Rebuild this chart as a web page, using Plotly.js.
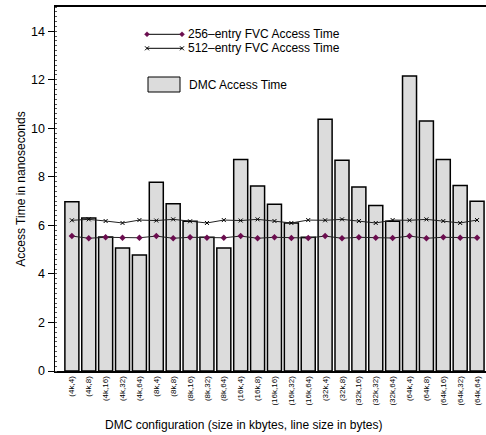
<!DOCTYPE html>
<html>
<head>
<meta charset="utf-8">
<script src="https://cdn.plot.ly/plotly-3.0.1.min.js"></script>
<style>html,body{margin:0;padding:0;background:#fff;}#chart{width:486px;height:435px;}</style>
</head>
<body>
<div id="chart"></div>
<script>
var categories = ["(4k,4)","(4k,8)","(4k,16)","(4k,32)","(4k,64)",
  "(8k,4)","(8k,8)","(8k,16)","(8k,32)","(8k,64)",
  "(16k,4)","(16k,8)","(16k,16)","(16k,32)","(16k,64)",
  "(32k,4)","(32k,8)","(32k,16)","(32k,32)","(32k,64)",
  "(64k,4)","(64k,8)","(64k,16)","(64k,32)","(64k,64)"];
var dmcAccess = [6.97,6.31,5.52,5.07,4.78, 7.78,6.89,6.17,5.51,5.07, 8.72,7.62,6.87,6.10,5.51, 10.37,8.68,7.58,6.82,6.17, 12.16,10.30,8.72,7.64,7.00];
var fvc256 = [5.56,5.47,5.51,5.49,5.49, 5.56,5.47,5.51,5.49,5.49, 5.56,5.47,5.51,5.48,5.48, 5.56,5.47,5.51,5.49,5.48, 5.56,5.47,5.51,5.49,5.49];
var fvc512 = [6.21,6.25,6.18,6.10,6.22, 6.20,6.25,6.17,6.10,6.22, 6.20,6.25,6.18,6.10,6.22, 6.21,6.25,6.18,6.10,6.22, 6.21,6.25,6.18,6.10,6.22];
var yTicks = [0,2,4,6,8,10,12,14];
var seriesNames = ["256\u2013entry FVC Access Time", "512\u2013entry FVC Access Time", "DMC Access Time"];

var font = "Liberation Sans, Arial, sans-serif";
var purple = "#6b0d4f";
var traces = [
  {type:"scatter", mode:"lines+markers", name:seriesNames[0], x:categories, y:fvc256,
   line:{color:"#222", width:1}, marker:{symbol:"diamond", size:5, color:purple}},
  {type:"scatter", mode:"lines+markers", name:seriesNames[1], x:categories, y:fvc512,
   line:{color:"#222", width:1}, marker:{symbol:"x-thin", size:4, color:"#000", line:{color:"#000", width:1}}},
  {type:"bar", name:seriesNames[2], x:categories, y:dmcAccess,
   marker:{color:"#dcdcdc", line:{color:"#000", width:1.5}}}
];

// plot-area pixel geometry -> paper coordinates (for the hand-drawn legend)
var L = 55, R = 486, T = 7, B = 371;
function px(x){ return (x - L) / (R - L); }
function py(y){ return (B - y) / (B - T); }

var shapes = [], annotations = [];
function legendLine(yPix, kind, label){
  var x0 = 147, x1 = 182;
  shapes.push({type:"line", xref:"paper", yref:"paper", x0:px(x0), x1:px(x1), y0:py(yPix), y1:py(yPix), line:{color:"#000", width:1}});
  [x0, x1].forEach(function(xc){
    if (kind === "diamond") {
      var r = 2.5;
      shapes.push({type:"path", xref:"paper", yref:"paper",
        path:"M"+px(xc)+","+py(yPix-r)+" L"+px(xc+r)+","+py(yPix)+" L"+px(xc)+","+py(yPix+r)+" L"+px(xc-r)+","+py(yPix)+" Z",
        fillcolor:purple, line:{color:purple, width:0.5}});
    } else {
      shapes.push({type:"line", xref:"paper", yref:"paper", x0:px(xc-2), x1:px(xc+2), y0:py(yPix-2), y1:py(yPix+2), line:{color:"#000", width:1}});
      shapes.push({type:"line", xref:"paper", yref:"paper", x0:px(xc-2), x1:px(xc+2), y0:py(yPix+2), y1:py(yPix-2), line:{color:"#000", width:1}});
    }
  });
  annotations.push({text:label, xref:"paper", yref:"paper", x:px(186), y:py(yPix), xanchor:"left", yanchor:"middle",
    showarrow:false, font:{family:font, size:12}});
}
legendLine(34.3, "diamond", seriesNames[0]);
legendLine(48.3, "x", seriesNames[1]);
shapes.push({type:"rect", xref:"paper", yref:"paper", x0:px(148), x1:px(180), y0:py(92), y1:py(77),
  fillcolor:"#dcdcdc", line:{color:"#000", width:1}});
annotations.push({text:seriesNames[2], xref:"paper", yref:"paper", x:px(187), y:py(84.5), xanchor:"left", yanchor:"middle",
  showarrow:false, font:{family:font, size:12}});
annotations.push({text:"DMC configuration (size in kbytes, line size in bytes)", xref:"paper", yref:"paper",
  x:px(243), y:py(425), xanchor:"center", yanchor:"middle", showarrow:false, font:{family:font, size:12}});

var layout = {
  width:486, height:435,
  margin:{l:55, r:0, t:7, b:64},
  paper_bgcolor:"#fff", plot_bgcolor:"#fff",
  font:{family:font, size:12, color:"#000"},
  bargap:0.17,
  showlegend:false,
  xaxis:{type:"category", range:[-1, 24.53], showline:true, mirror:true, linecolor:"#000", linewidth:2,
         ticks:"", tickangle:-90, tickfont:{family:font, size:8}, showgrid:false, zeroline:false, fixedrange:true},
  yaxis:{range:[0,15], tickvals:yTicks, showline:true, linecolor:"#000", linewidth:1.5,
         ticks:"outside", ticklen:6, tickwidth:1, tickcolor:"#000", tickfont:{family:font, size:12.5},
         showgrid:false, zeroline:false,
         minor:{ticks:"inside", ticklen:2, dtick:0.2, tickcolor:"#555", tickwidth:1},
         title:{text:"Access Time in nanoseconds", font:{family:font, size:12}, standoff:3}},
  shapes:shapes,
  annotations:annotations
};
Plotly.newPlot("chart", traces, layout, {staticPlot:true, displayModeBar:false});
</script>
</body>
</html>
